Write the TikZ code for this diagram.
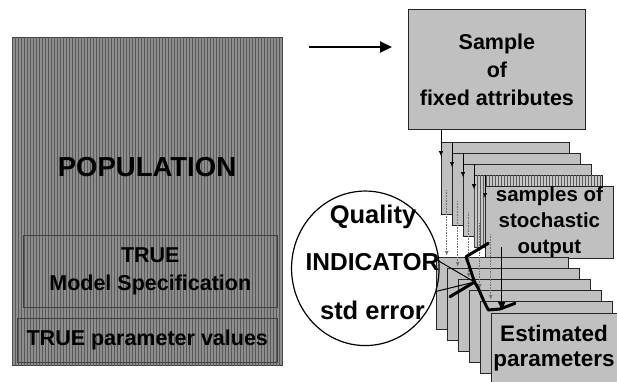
\documentclass[tikz,border=0pt]{standalone}
\usepackage{fontspec}
\setmainfont{Liberation Sans}
\usetikzlibrary{arrows.meta,patterns,calc,shapes.geometric}

\definecolor{boxgray}{HTML}{C0C0C0}
\definecolor{popgray}{HTML}{8E8E8E}
\definecolor{hatchgray}{HTML}{C8C8C8}

\begin{document}
\begin{tikzpicture}[x=1pt,y=-1pt,
  txt/.style={font=\bfseries\fontsize{#1}{#1}\selectfont, inner sep=0pt},
  box/.style={draw=black!85, line width=0.8pt, fill=boxgray, inner sep=0pt,
    anchor=north west},
  stackbox/.style={box, minimum width=128pt, minimum height=72pt},
  estbox/.style={box, minimum width=132pt, minimum height=72pt},
  hatched/.style={fill=#1, postaction={pattern=vertical lines, pattern color=black!65}},
  frame/.style={draw=black!75, line width=0.6pt, anchor=north west, inner sep=0pt},
  feed/.style={line width=0.6pt, -{Latex[length=5pt,width=4.5pt]}},
  dotfeed/.style={draw=black!55, line width=0.6pt, densely dotted,
    -{Latex[length=4.5pt,width=4pt]}},
  thick link/.style={line width=3pt, line join=round, line cap=round},
  thin link/.style={line width=1pt},
]
\useasboundingbox (0,0) rectangle (617,381);
\clip (0,0) rectangle (617,381);

% population block
\node[frame, hatched=popgray, minimum width=270pt, minimum height=328pt] (pop) at (12,37) {};
\node[txt=27.5] (popt) at (147,167) {POPULATION};
\node[frame, minimum width=254pt, minimum height=72pt] (spec) at (23,235) {};
\node[align=center, inner sep=0pt, font=\bfseries\fontsize{21.5}{28}\selectfont] (spect)
  at (spec.center) {TRUE\\Model Specification};
\node[frame, minimum width=260pt, minimum height=44pt] (par) at (17,318) {};
\node[txt=21.5] (part) at (par.center) {TRUE parameter values};

% arrow towards the sample
\coordinate (a0) at (309,47);
\coordinate (a1) at (392,47);
\draw[line width=2pt, -{Triangle[length=12pt,width=11pt]}] (a0) -- (a1);

% sample of fixed attributes
\node[box, minimum width=177pt, minimum height=120pt, align=center,
  font=\bfseries\fontsize{21.5}{28}\selectfont] (sample) at (408,9)
  {Sample\\of\\fixed attributes};

% stack of stochastic samples
\node[stackbox] (s1) at (441,142) {};
\node[stackbox] (s2) at (452,153) {};
\node[stackbox] (s3) at (463,164) {};
\node[stackbox, hatched=hatchgray] (s4) at (474,175) {};
\node[stackbox, align=center, font=\bfseries\fontsize{20.5}{26}\selectfont] (s5) at (485,186)
  {samples of\\stochastic\\output};

\draw[feed] (sample.south -| s1.west) -- ([yshift=-14pt]s1.north west);
\draw[feed] (s1.north -| s2.west) -- ([yshift=-14pt]s2.north west);
\draw[feed] (s2.north -| s3.west) -- ([yshift=-13pt]s3.north west);
\draw[feed] (s3.north -| s4.west) -- ([yshift=-14pt]s4.north west);
\draw[feed] (s4.north -| s5.west) -- ([yshift=-12pt]s5.north west);

% stack of estimated parameters
\node[estbox] (e1) at (436,257) {};
\node[estbox] (e2) at (447,268) {};
\node[estbox] (e3) at (458,279) {};
\node[estbox] (e4) at (469,290) {};
\node[estbox] (e5) at (480,301) {};
\node[estbox] (e6) at (491,313) {};
\node[align=center, font=\bfseries\fontsize{22.5}{25}\selectfont, inner sep=0pt]
  (e6t) at (554,348) {Estimated\\parameters};

% dotted feeds from each sample to its estimate
\foreach \k in {1,...,5}{
  \coordinate (d\k) at ($(s\k.north west)+(5.7,48)$);
  \draw[dotfeed] (d\k) -- ($(d\k |- e\k.north)+(0,-1.5)$);
}

% final solid arrow
\coordinate (f0) at (501.7,246.7);
\draw[line width=1.4pt, -{Triangle[length=8pt,width=7pt]}] (f0) -- ($(f0 |- e6.north)+(0,-3)$);

% quality indicator
\node[draw, ellipse, line width=1.2pt, minimum width=147.5pt, minimum height=154.5pt,
  inner sep=0pt] (q) at (365.3,268.3) {};
\node[txt=25.5] (q1) at (373,216.7) {Quality};
\node[txt=24.5] (q2) at (372.5,261.7) {INDICATOR};
\node[txt=25.5] (q3) at (372.5,310) {std error};

% thick bracket linking the estimates
\coordinate (t1) at (488.3,243.3);
\coordinate (t2) at (466,256.7);
\coordinate (t3) at (470,268.3);
\coordinate (t4) at (474.5,282);
\coordinate (t5) at (478.3,288.3);
\coordinate (t6) at (483.3,300);
\coordinate (t7) at (488.3,310);
\coordinate (t8) at (500,309);
\coordinate (t9) at (515,303.3);
\draw[thick link] (t1) -- (t2) -- (t3) -- (t4) -- (t5) -- (t6) -- (t7) -- (t8) -- (t9);
\coordinate (k0) at (450,296.7);
\draw[thick link] (k0) -- (t4);

\coordinate (l1) at (437,260);
\draw[thin link] (l1) -- (t4);
\draw[thin link] (q.-18) -- (t4);
\end{tikzpicture}
\end{document}
